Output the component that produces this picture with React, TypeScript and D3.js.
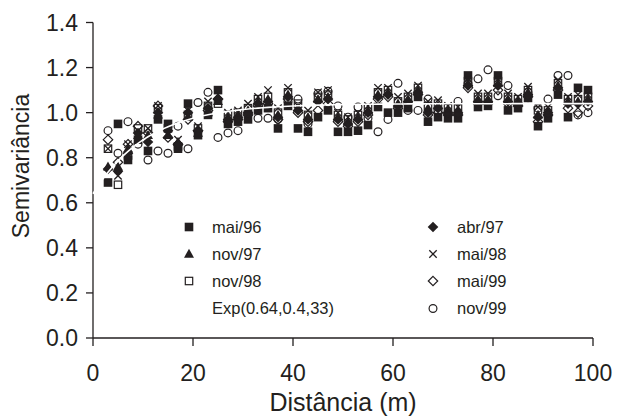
import React from "react";
import * as d3 from "d3";

const distances = [3, 5, 7, 9, 11, 13, 15, 17, 19, 21, 23, 25, 27, 29, 31, 33, 35, 37, 39, 41, 43, 45, 47, 49, 51, 53, 55, 57, 59, 61, 63, 65, 67, 69, 71, 73, 75, 77, 79, 81, 83, 85, 87, 89, 91, 93, 95, 97, 99];

const mai96 = [0.69, 0.95, 0.79, 0.88, 0.83, 0.97, 0.95, 0.84, 1.04, 0.90, 0.99, 1.10, 0.95, 0.96, 0.97, 1.01, 1.02, 0.93, 1.03, 0.93, 0.915, 0.98, 1.01, 0.915, 0.915, 0.92, 0.945, 1.025, 1.00, 1.00, 1.02, 1.07, 0.96, 0.98, 0.975, 0.975, 1.165, 1.025, 1.03, 1.165, 1.01, 1.02, 1.065, 0.94, 0.975, 1.08, 0.98, 1.11, 1.10];
const abr97 = [0.75, 0.74, 0.82, 0.91, 0.87, 1.00, 0.92, 0.86, 1.00, 0.92, 1.02, 1.06, 0.97, 0.98, 1.00, 1.04, 1.05, 0.98, 1.07, 1.01, 0.97, 1.05, 1.06, 0.97, 0.95, 0.97, 1.00, 1.07, 1.08, 1.03, 1.05, 1.09, 1.00, 1.02, 1.00, 1.00, 1.12, 1.05, 1.05, 1.12, 1.05, 1.04, 1.08, 0.98, 1.00, 1.11, 1.04, 1.04, 1.05];
const nov97 = [0.76, 0.76, 0.84, 0.90, 0.90, 0.99, 0.90, 0.87, 0.98, 0.91, 1.00, 1.05, 0.98, 0.99, 1.01, 1.05, 1.06, 0.99, 1.08, 1.02, 0.98, 1.06, 1.07, 0.98, 0.96, 0.98, 1.01, 1.08, 1.09, 1.04, 1.06, 1.10, 1.02, 1.03, 1.01, 1.01, 1.13, 1.06, 1.06, 1.13, 1.06, 1.05, 1.09, 0.99, 1.00, 1.12, 1.05, 1.05, 1.06];
const mai98 = [0.84, 0.72, 0.86, 0.92, 0.93, 1.03, 0.91, 0.88, 1.01, 0.94, 1.05, 1.08, 1.00, 1.01, 1.04, 1.07, 1.10, 1.02, 1.11, 1.03, 1.01, 1.09, 1.10, 1.00, 0.98, 1.00, 1.03, 1.11, 1.11, 1.07, 1.085, 1.12, 1.05, 1.055, 1.03, 1.025, 1.15, 1.085, 1.085, 1.15, 1.085, 1.07, 1.115, 1.025, 1.025, 1.145, 1.07, 1.08, 1.08];
const nov98 = [0.84, 0.68, 0.81, 0.93, 0.93, 1.02, 0.93, 0.85, 0.99, 0.93, 1.03, 1.04, 0.99, 1.00, 1.02, 1.06, 1.07, 1.00, 1.09, 1.04, 0.99, 1.07, 1.08, 0.99, 0.97, 0.99, 1.02, 1.09, 1.10, 1.05, 1.07, 1.11, 1.03, 1.04, 1.02, 1.02, 1.14, 1.07, 1.07, 1.14, 1.07, 1.06, 1.10, 1.01, 1.01, 1.13, 1.06, 1.06, 1.07];
const mai99 = [0.88, 0.78, 0.86, 0.94, 0.91, 1.03, 0.89, 0.86, 0.97, 0.92, 1.01, 1.06, 0.96, 0.97, 0.99, 1.03, 1.04, 0.97, 1.06, 1.00, 0.96, 1.01, 1.04, 0.96, 0.94, 0.96, 0.99, 1.06, 1.07, 1.02, 1.04, 1.08, 0.99, 1.00, 0.99, 0.99, 1.11, 1.04, 1.04, 1.10, 1.04, 1.03, 1.07, 0.96, 0.99, 1.10, 1.02, 1.00, 1.03];
const nov99 = [0.92, 0.82, 0.96, 0.86, 0.79, 0.83, 0.82, 0.94, 0.84, 1.045, 1.09, 0.89, 0.91, 0.92, 1.00, 0.975, 0.975, 0.97, 1.05, 1.06, 0.95, 1.085, 1.095, 1.03, 0.98, 1.025, 0.975, 0.915, 0.97, 1.13, 1.01, 1.01, 1.06, 1.01, 1.00, 1.05, 1.13, 1.15, 1.19, 1.075, 1.12, 1.04, 1.09, 1.02, 1.06, 1.165, 1.165, 0.99, 1.00];

const seriesNames = ["mai/96", "abr/97", "nov/97", "mai/98", "nov/98", "mai/99", "nov/99"];
const seriesValues = [mai96, abr97, nov97, mai98, nov98, mai99, nov99];
const seriesShapes = ["square", "diamond", "triangle", "x", "openSquare", "openDiamond", "circle"];

const modelNugget = 0.64;
const modelSill = 0.4;
const modelRange = 33;
const modelLabel = "Exp(0.64,0.4,33)";

const xTicks = [0, 20, 40, 60, 80, 100];
const yTicks = [0, 0.2, 0.4, 0.6, 0.8, 1.0, 1.2, 1.4];

const INK = "#231f20";
const FONT = "'Liberation Sans', Arial, Helvetica, sans-serif";

function Marker({ shape, cx, cy }: { shape: string; cx: number; cy: number }) {
  switch (shape) {
    case "square":
      return <rect x={cx - 4.3} y={cy - 4.3} width={8.6} height={8.6} fill={INK} />;
    case "diamond":
      return <path d={`M${cx},${cy - 5.3}L${cx + 5.3},${cy}L${cx},${cy + 5.3}L${cx - 5.3},${cy}Z`} fill={INK} />;
    case "triangle":
      return <path d={`M${cx},${cy - 5.2}L${cx + 5},${cy + 3.7}L${cx - 5},${cy + 3.7}Z`} fill={INK} />;
    case "x":
      return (
        <path
          d={`M${cx - 3.7},${cy - 3.7}L${cx + 3.7},${cy + 3.7}M${cx + 3.7},${cy - 3.7}L${cx - 3.7},${cy + 3.7}`}
          stroke={INK}
          strokeWidth={1.3}
          fill="none"
        />
      );
    case "openSquare":
      return <rect x={cx - 3.7} y={cy - 3.7} width={7.4} height={7.4} fill="none" stroke={INK} strokeWidth={1.2} />;
    case "openDiamond":
      return (
        <path
          d={`M${cx},${cy - 4.7}L${cx + 4.7},${cy}L${cx},${cy + 4.7}L${cx - 4.7},${cy}Z`}
          fill="none"
          stroke={INK}
          strokeWidth={1.2}
        />
      );
    default:
      return <circle cx={cx} cy={cy} r={3.9} fill="none" stroke={INK} strokeWidth={1.2} />;
  }
}

export default function App() {
  const W = 618;
  const H = 420;
  const x = d3.scaleLinear().domain([0, 100]).range([93, 593]);
  const y = d3.scaleLinear().domain([0, 1.4]).range([338, 22.5]);

  const modelPts: [number, number][] = d3.range(0, 101, 1).map((h) => [
    h,
    modelNugget + modelSill * (1 - Math.exp((-3 * h) / modelRange)),
  ]);
  const line = d3
    .line<[number, number]>()
    .x((d) => x(d[0]))
    .y((d) => y(d[1]));

  const legendLeft = [0, 2, 4];
  const legendRight = [1, 3, 5, 6];
  const rowY = [227, 254, 281, 308.5];

  return (
    <svg
      width={W}
      height={H}
      style={{ position: "absolute", left: 0, top: 0, background: "#fff" }}
      fontFamily={FONT}
    >
      <rect width={W} height={H} fill="#fff" />
      {/* axes */}
      <line x1={x(0)} x2={x(100)} y1={y(0)} y2={y(0)} stroke={INK} strokeWidth={1.3} />
      <line x1={x(0)} x2={x(0)} y1={y(0)} y2={y(1.4)} stroke={INK} strokeWidth={1.3} />
      {xTicks.map((t) => (
        <g key={"xt" + t}>
          <line x1={x(t)} x2={x(t)} y1={y(0)} y2={y(0) + 8} stroke={INK} strokeWidth={1.3} />
          <text x={x(t)} y={381} textAnchor="middle" fontSize={23} fill={INK}>
            {t}
          </text>
        </g>
      ))}
      {yTicks.map((t) => (
        <g key={"yt" + t}>
          <line x1={x(0) - 7} x2={x(0)} y1={y(t)} y2={y(t)} stroke={INK} strokeWidth={1.3} />
          <text x={x(0) - 15} y={y(t)} dy="0.36em" textAnchor="end" fontSize={23} fill={INK}>
            {t.toFixed(1)}
          </text>
        </g>
      ))}
      <text x={343} y={411} textAnchor="middle" fontSize={25} fill={INK}>
        Distância (m)
      </text>
      <text transform="translate(29,166) rotate(-90)" textAnchor="middle" fontSize={23} fill={INK}>
        Semivariância
      </text>

      {/* points */}
      {seriesValues.map((vals, si) => (
        <g key={"s" + si}>
          {vals.map((v, i) => (
            <Marker key={i} shape={seriesShapes[si]} cx={x(distances[i])} cy={y(v)} />
          ))}
        </g>
      ))}

      {/* model line (white) */}
      <path d={line(modelPts) || ""} fill="none" stroke="#fff" strokeWidth={1.6} />

      {/* legend */}
      {legendLeft.map((si, r) => (
        <g key={"ll" + si}>
          <Marker shape={seriesShapes[si]} cx={189} cy={rowY[r]} />
          <text x={212} y={rowY[r]} dy="0.36em" fontSize={16.5} fill={INK}>
            {seriesNames[si]}
          </text>
        </g>
      ))}
      <line x1={180} x2={198} y1={rowY[3]} y2={rowY[3]} stroke="#fff" strokeWidth={1.6} />
      <text x={212} y={rowY[3]} dy="0.36em" fontSize={16.5} fill={INK}>
        {modelLabel}
      </text>
      {legendRight.map((si, r) => (
        <g key={"lr" + si}>
          <Marker shape={seriesShapes[si]} cx={433} cy={rowY[r]} />
          <text x={457} y={rowY[r]} dy="0.36em" fontSize={16.5} fill={INK}>
            {seriesNames[si]}
          </text>
        </g>
      ))}
    </svg>
  );
}
